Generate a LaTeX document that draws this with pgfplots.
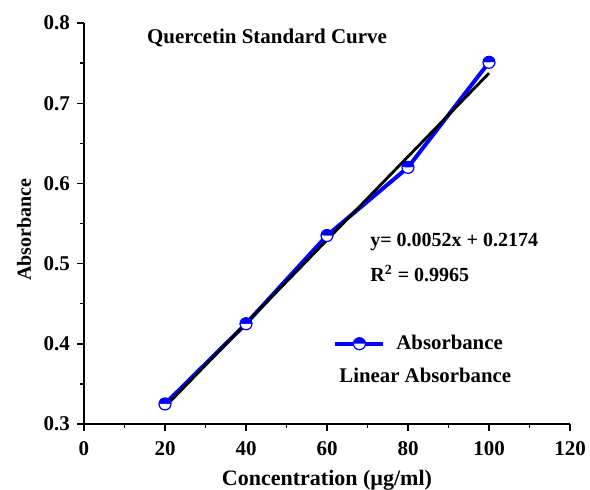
\documentclass[border=0pt]{standalone}
\usepackage{pgfplots}
\pgfplotsset{compat=1.18}
\usepackage{fontspec}
\setmainfont{Liberation Serif}
\usetikzlibrary{plotmarks}
\begin{document}
\begin{tikzpicture}
\path[use as bounding box] (-42pt,-32.5pt) rectangle (253pt,212pt);
\begin{axis}[
 scale only axis, width=243pt, height=200.5pt,
 anchor=south west, at={(0,0)},
 xmin=0, xmax=120, ymin=0.3, ymax=0.8,
 xtick={0,20,40,60,80,100,120}, ytick={0.3,0.4,0.5,0.6,0.7,0.8},
 minor x tick num=1, minor y tick num=1,
 axis x line*=bottom, axis y line*=left,
 tick align=outside,
 major tick length=3.5pt, minor tick length=2pt,
 axis line style={line width=0.7pt, black},
 every tick/.style={line width=0.7pt, black},
 /pgf/number format/assume math mode=true,
 yticklabel style={/pgf/number format/fixed, /pgf/number format/fixed zerofill, /pgf/number format/precision=1},
 xticklabel style={yshift=-1.5pt},
 ticklabel style={font=\fontsize{10.5}{12}\selectfont\bfseries},
 xlabel={Concentration (µg/ml)}, ylabel={Absorbance},
 xlabel style={font=\fontsize{11}{13}\selectfont\bfseries, at={(axis description cs:0.5,-0.14)}, anchor=center},
 ylabel style={font=\fontsize{10}{12}\selectfont\bfseries, at={(axis description cs:-0.1235,0.485)}, anchor=center},
 legend style={at={(axis cs:61,0.419)}, anchor=north west, draw=none, fill=none, font=\fontsize{10.4}{12}\selectfont\bfseries, row sep=4pt, column sep=3.5pt, inner sep=1pt},
 legend cell align=left,
 legend image code/.code={\draw[mark repeat=2,mark phase=2,#1] plot coordinates {(0pt,0pt) (12pt,0pt) (24pt,0pt)};},
]
\addplot[blue, line width=2pt, mark=halfcircle*, mark size=3pt, mark options={line width=0.6pt, draw=blue, fill=blue, solid}]
 coordinates {(20,0.325) (40,0.425) (60,0.535) (80,0.620) (100,0.751)};
\addlegendentry{Absorbance}
\addplot[black, line width=1.4pt, forget plot] coordinates {(20,0.3214) (100,0.7374)};
\addlegendimage{empty legend}
\addlegendentry{\hspace*{-28.5pt}Linear Absorbance}
\node[anchor=center, font=\fontsize{10.5}{12}\selectfont\bfseries] at (axis cs:45.2,0.781) {Quercetin Standard Curve};
\node[anchor=west, font=\fontsize{10}{12}\selectfont\bfseries, inner sep=0pt] at (axis cs:70.6,0.527) {y= 0.0052x + 0.2174};
\node[anchor=west, font=\fontsize{10}{12}\selectfont\bfseries, inner sep=0pt] at (axis cs:70.6,0.488) {R\textsuperscript{2} = 0.9965};
\end{axis}
\end{tikzpicture}
\end{document}
